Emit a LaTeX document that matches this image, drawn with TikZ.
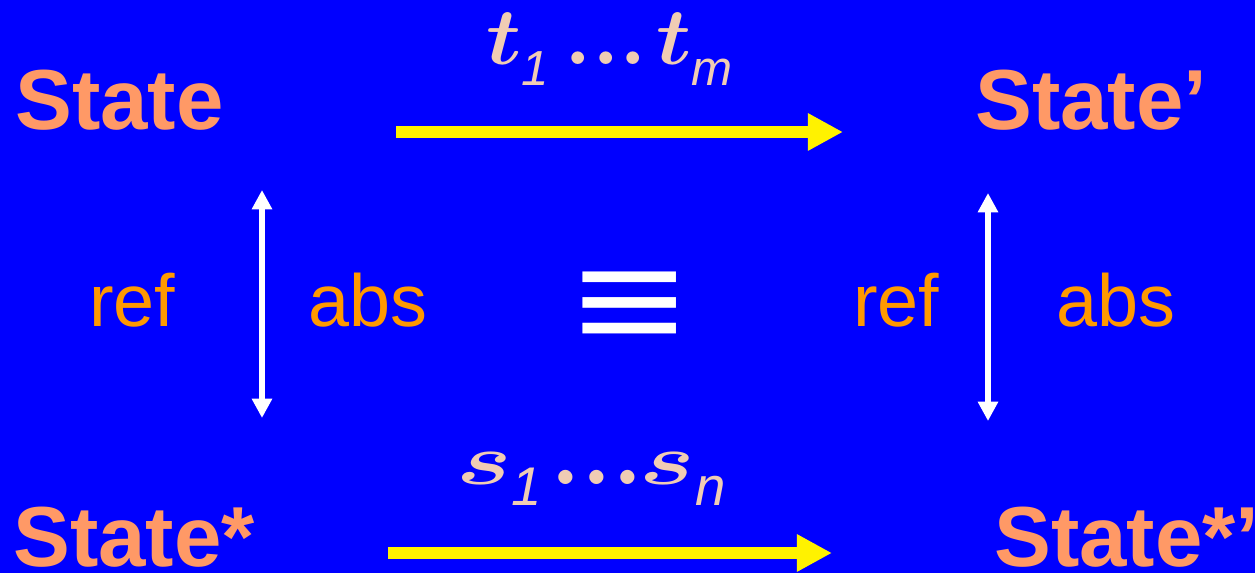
\RequirePackage{fix-cm}
\documentclass[tikz,border=0pt]{standalone}
\usepackage{amsmath}
\usepackage{fontspec}
\usepackage{tikz}
\usetikzlibrary{arrows.meta, positioning}
\newfontfamily\arialfont{Liberation Sans}
\definecolor{slideblue}{RGB}{0,0,255}
\definecolor{statecol}{RGB}{255,153,102}
\definecolor{mapcol}{RGB}{255,153,0}
\definecolor{seqcol}{RGB}{240,204,180}

% bold math italic letter in text mode
\newcommand{\mathbfit}[2]{{\fontsize{#2}{#2}\usefont{OML}{cmm}{b}{it}#1}}
% sequence label: #1 letter, #2 #3 subscripts, #4 letter size, #5 subscript size,
% #6 x-scale, #7 gap before dots, #8 dots size, #9 gap after dots
\newcommand{\seqlabel}[9]{%
  \scalebox{#6}[1]{\mathbfit{#1}{#4}}%
  \raisebox{-11.6pt}{\arialfont\itshape\fontsize{#5}{#5}\selectfont #2}%
  \hspace{#7}{\fontsize{#8}{#8}\selectfont\bfseries...}\hspace{#9}%
  \scalebox{#6}[1]{\mathbfit{#1}{#4}}%
  \raisebox{-11.6pt}{\arialfont\itshape\fontsize{#5}{#5}\selectfont #3}}

\begin{document}
\begin{tikzpicture}[x=0.02cm, y=-0.02cm]
    \tikzset{
      state/.style={anchor=base west, inner sep=0pt, text=statecol,
        font=\arialfont\bfseries\fontsize{48.5}{58}\selectfont},
      maplabel/.style={anchor=base west, inner sep=0pt, text=mapcol,
        font=\arialfont\fontsize{42}{50}\selectfont},
      seqarrow/.style={yellow, line width=6.3pt, -{Triangle[length=20pt, width=20pt]}},
      maparrow/.style={white, line width=3.2pt,
        {Triangle[length=11pt, width=11pt]}-{Triangle[length=11pt, width=11pt]}}
    }
    \fill[slideblue] (0,0) rectangle (1255,573);
    \useasboundingbox (0,0) rectangle (1255,573);

    % the four states
    \node[state] (st)   at (15, 130)  {State};
    \node[state] (stp)  at (975, 130) {State’};
    \node[state] (sts)  at (13, 567)  {State*};
    \node[state] (stsp) at (994, 567) {State*’};

    % sequences of steps
    \coordinate (ta) at (396, 132);
    \coordinate (tb) at (843, 132);
    \draw[seqarrow] (ta) -- (tb);
    \node[anchor=base west, inner sep=0pt, text=seqcol] (tseq) at (486, 65)
      {\seqlabel{t}{1}{m}{46}{28}{1.05}{9pt}{50}{5pt}};

    \coordinate (sa) at (388, 553);
    \coordinate (sb) at (832, 553);
    \draw[seqarrow] (sa) -- (sb);
    \node[anchor=base west, inner sep=0pt, text=seqcol] (sseq) at (456, 485)
      {\seqlabel{s}{1}{n}{41}{31}{1.45}{5pt}{56}{-2pt}};

    % refinement / abstraction
    \coordinate (la) at (262, 190);
    \coordinate (lb) at (262, 418);
    \draw[maparrow] (la) -- (lb);
    \node[maplabel] (lref) at (89, 327)  {ref};
    \node[maplabel] (labs) at (308, 327) {abs};

    \coordinate (ra) at (988, 193);
    \coordinate (rb) at (988, 421);
    \draw[maparrow] (ra) -- (rb);
    \node[maplabel] (rref) at (853, 327)  {ref};
    \node[maplabel] (rabs) at (1056, 327) {abs};

    \node[text=white, inner sep=0pt] (eqv) at (630, 312)
      {\scalebox{1.37}[1.05]{\arialfont\bfseries\fontsize{80}{80}\selectfont ≡}};
\end{tikzpicture}
\end{document}
